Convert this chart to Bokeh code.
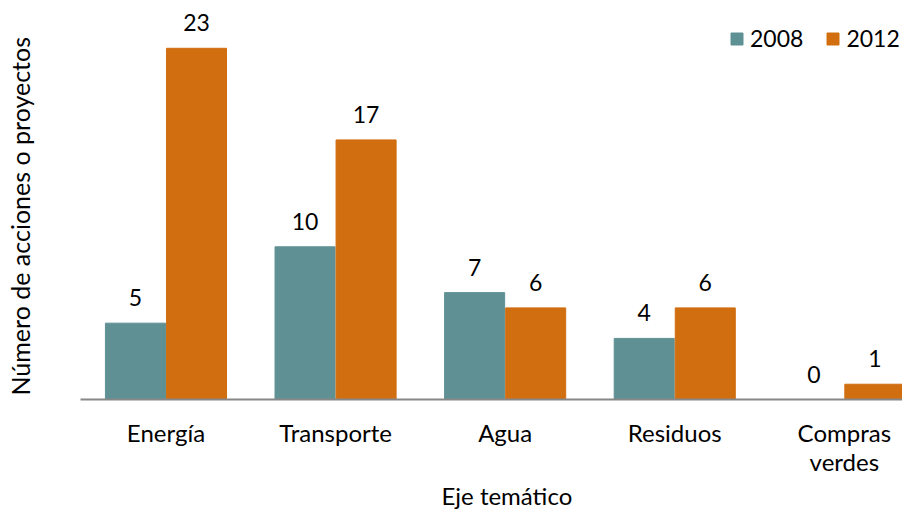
from bokeh.plotting import figure
from bokeh.models import ColumnDataSource, FixedTicker, Range1d, Title
from bokeh.transform import dodge
from bokeh.core.properties import value
from bokeh.embed import file_html
from bokeh.resources import INLINE

categories = ["Energía", "Transporte", "Agua", "Residuos", "Compras\nverdes"]
values_2008 = [5, 10, 7, 4, 0]
values_2012 = [23, 17, 6, 6, 1]
x_title = "Eje temático"
y_title = "Número de acciones o proyectos"

TEAL = "#5F9194"
ORANGE = "#D06E10"
FONT = "Lato"

xs = list(range(len(categories)))
src = ColumnDataSource(dict(
    x=xs,
    v08=values_2008,
    v12=values_2012,
    t08=[str(v) for v in values_2008],
    t12=[str(v) for v in values_2012],
))

p = figure(width=902, height=509, output_backend="svg", toolbar_location=None,
           x_range=Range1d(-0.504, 4.343), y_range=Range1d(0, 26.13),
           min_border_left=80, min_border_right=0, min_border_top=0, min_border_bottom=108)

bw = 0.354
off = 0.18
p.vbar(x=dodge("x", -off), top="v08", width=bw, source=src, color=TEAL, legend_label="2008")
p.vbar(x=dodge("x", off), top="v12", width=bw, source=src, color=ORANGE, legend_label="2012")

for col, tcol, o in (("v08", "t08", -off), ("v12", "t12", off)):
    p.text(x=dodge("x", o), y=col, text=tcol, source=src, text_align="center",
           text_baseline="bottom", y_offset=-17, text_font=value(FONT),
           text_font_size="23px", text_color="black")

p.grid.visible = False
p.outline_line_color = None
p.background_fill_color = None
p.border_fill_color = None

xa = p.xaxis[0]
xa.ticker = FixedTicker(ticks=xs)
xa.major_label_overrides = {i: c for i, c in enumerate(categories)}
xa.major_tick_line_color = None
xa.major_tick_out = 0
xa.major_tick_in = 0
xa.minor_tick_line_color = None
xa.axis_line_color = "#878787"
xa.axis_line_width = 2
xa.major_label_text_font = FONT
xa.major_label_text_font_size = "24px"
xa.major_label_text_line_height = 1.0
xa.major_label_text_color = "black"
xa.major_label_standoff = 18

# invisible y axis used only as spacer between the frame and the y title
ya = p.yaxis[0]
ya.ticker = FixedTicker(ticks=[0])
ya.major_label_overrides = {0: ""}
ya.major_label_text_font_size = "0px"
ya.major_label_standoff = 0
ya.major_tick_line_color = None
ya.major_tick_out = 46
ya.major_tick_in = 0
ya.minor_tick_line_color = None
ya.axis_line_color = None

p.add_layout(Title(text=x_title, align="left", offset=361, standoff=0,
                   text_font=FONT, text_font_size="24px", text_font_style="normal",
                   text_color="black"), "below")
p.add_layout(Title(text=y_title, align="left", offset=4, standoff=0,
                   text_font=FONT, text_font_size="25px", text_font_style="normal",
                   text_color="black"), "left")

lg = p.legend[0]
lg.location = (649, 347)
lg.orientation = "horizontal"
lg.border_line_color = None
lg.background_fill_alpha = 0
lg.margin = 0
lg.padding = 0
lg.spacing = 22
lg.glyph_width = 15
lg.glyph_height = 15
lg.label_standoff = 6
lg.label_text_font = FONT
lg.label_text_font_size = "23px"
lg.label_text_color = "black"

open("out.html", "w").write(file_html(p, INLINE))
